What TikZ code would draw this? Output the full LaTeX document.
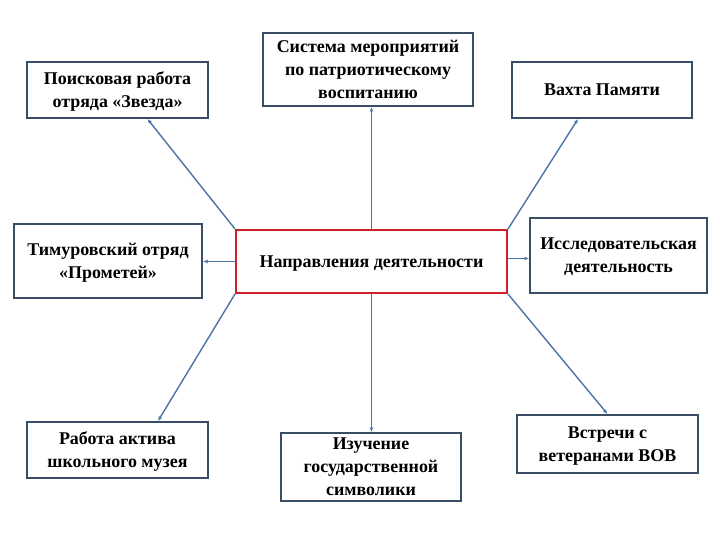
\documentclass[tikz,border=0pt]{standalone}
\usepackage{fontspec}
\setmainfont{Liberation Serif}
\usetikzlibrary{arrows.meta,calc}
\definecolor{boxline}{HTML}{3A4D66}
\definecolor{conn}{HTML}{4A74A4}
\definecolor{redline}{HTML}{D0202E}
\begin{document}
\begin{tikzpicture}[x=1bp,y=-1bp,
  box/.style={draw=boxline,line width=2bp,fill=white,align=center,inner sep=2bp,
    text depth=0pt,font=\fontsize{18}{23}\selectfont\bfseries},
  mainbox/.style={box,draw=redline},
  conn/.style={draw=conn,line width=1.4bp,-{Latex[length=4.5bp,width=4bp]}}]
\useasboundingbox[fill=white] (0,0) rectangle (720,540);
\node[box,minimum width=181bp,minimum height=56bp] (poisk) at (117.5,90) {Поисковая работа\\отряда «Звезда»};
\node[box,minimum width=210bp,minimum height=73bp] (sistema) at (368,69.5) {Система мероприятий\\по патриотическому\\воспитанию};
\node[box,minimum width=180bp,minimum height=56bp] (vakhta) at (602,90) {Вахта Памяти};
\node[box,minimum width=188bp,minimum height=74bp] (timur) at (108,261) {Тимуровский отряд\\«Прометей»};
\node[mainbox,minimum width=271bp,minimum height=63bp] (center) at (371.5,261.5) {Направления деятельности};
\node[box,minimum width=177bp,minimum height=75bp] (issled) at (618.5,255.5) {Исследовательская\\деятельность};
\node[box,minimum width=181bp,minimum height=56bp] (rabota) at (117.5,450) {Работа актива\\школьного музея};
\node[box,minimum width=180bp,minimum height=68bp] (izuch) at (371,467) {Изучение\\государственной\\символики};
\node[box,minimum width=181bp,minimum height=58bp] (vstrechi) at (607.5,444) {Встречи с\\ветеранами ВОВ};
\draw[conn] (center.north west) -- ([xshift=30bp]poisk.south);
\draw[conn] (center.north) -- (center.north |- sistema.south);
\draw[conn] (center.north east) -- ([xshift=-24bp]vakhta.south);
\draw[conn] (center.west) -- (center.west -| timur.east);
\draw[conn] ([yshift=3bp]center.east) -- ([yshift=3bp]center.east -| issled.west);
\draw[conn] (center.south west) -- ([xshift=40.5bp]rabota.north);
\draw[conn] (center.south) -- (center.south |- izuch.north);
\draw[conn] (center.south east) -- (vstrechi.north);
\end{tikzpicture}
\end{document}
